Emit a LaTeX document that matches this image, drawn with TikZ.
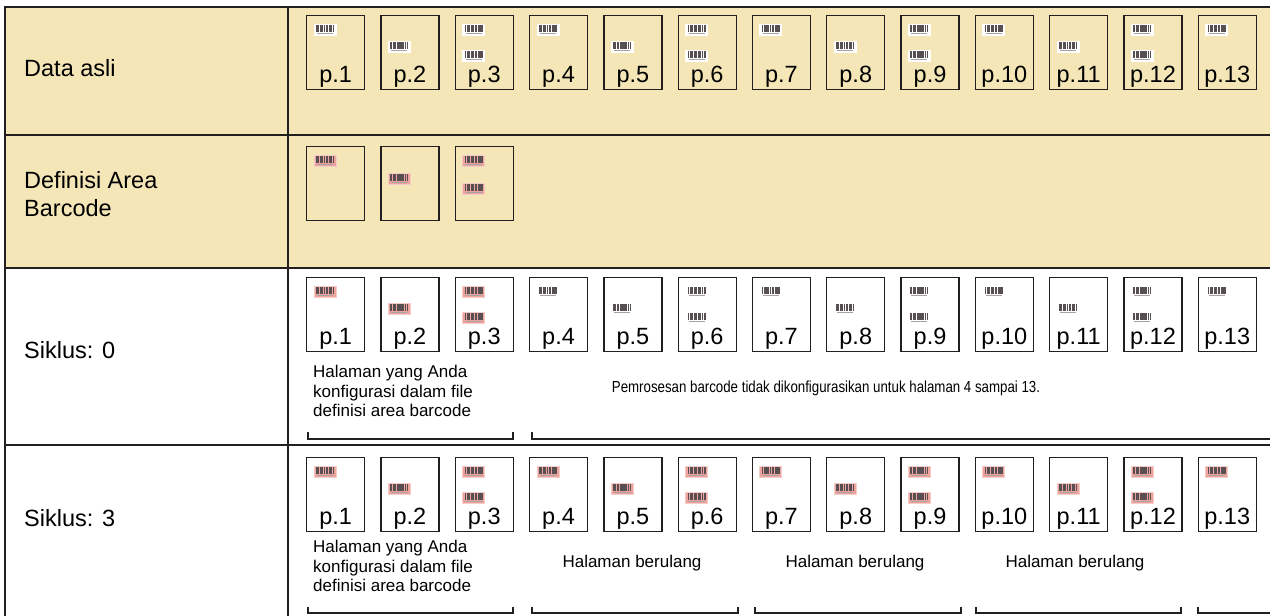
\documentclass[tikz,border=0pt]{standalone}
\usepackage{fontspec}
\setmainfont{Liberation Sans}
\newfontfamily\narrowfont[FakeStretch=0.83]{Liberation Sans}
\usepackage{tikz}
\usetikzlibrary{calc}
\definecolor{tableline}{HTML}{231F20}
\definecolor{tablebg}{HTML}{F4E6B6}
\definecolor{barpink}{HTML}{EFA39D}
\definecolor{barink}{HTML}{3A3032}

\tikzset{
  pics/barcd/.style={code={
    \filldraw[fill=#1, draw=#1!55!white, line width=0.8pt] (0,0) rectangle (22,11);
    \foreach \bx/\bw in {2/1.6, 4.2/0.8, 5.6/2.1, 8.3/0.8, 9.7/1.6, 12/2.3, 14.9/0.8, 16.3/1.6, 18.5/1.5}
      \fill[barink!85] (\bx,1.4) rectangle ++(\bw,6.6);
    \draw[barink!45, line width=0.7pt] (3,9.4) -- (19,9.4);
  }}
}

\begin{document}
\begin{tikzpicture}[x=1pt, y=-1pt, every node/.style={inner sep=0pt},
  rowlabel/.style={anchor=west, align=left, font=\fontsize{23.5}{28}\selectfont},
  page/.style={draw=tableline, line width=1.3pt, anchor=north west, minimum width=58pt, minimum height=74pt},
  plabel/.style={anchor=base, font=\fontsize{23.5}{26}\selectfont},
  note/.style={align=left, font=\fontsize{17}{19.5}\selectfont},
  bracket/.style={draw=tableline, line width=1.3pt},
  rule/.style={draw=tableline, line width=2pt}]
  \useasboundingbox (0,0) rectangle (1270,616);

  % table
  \fill[tablebg] (5,7) rectangle (1270,268);
  \draw[rule] (1270,7) -- (5,7) -- (5,616);
  \draw[rule] (288,7) -- (288,616);
  \draw[rule] (5,135) -- (1270,135);
  \draw[rule] (5,268) -- (1270,268);
  \draw[rule] (5,445) -- (1270,445);

  \node[rowlabel] (origtxt) at (24,68) {Data asli};
  \node[rowlabel] (deftxt) at (24,194) {Definisi Area\\Barcode};
  \node[rowlabel] (cyc0txt) at (24,350) {Siklus: 0};
  \node[rowlabel] (cyc3txt) at (24,518) {Siklus: 3};

  % original data
  \foreach \i in {1,...,13} {
    \pgfmathsetmacro\px{306+(\i-1)*74.3}
    \pgfmathtruncatemacro\k{mod(\i-1,3)}
    \node[page, fill=tablebg] (orig\i) at (\px,15) {};
    \node[plabel] (origlab\i) at ($(orig\i.south)+(0,-7.5)$) {p.\i};
    \ifcase\k
      \pic at ($(orig\i.north west)+(8,9)$) {barcd=white};
    \or
      \pic at ($(orig\i.north west)+(8,26)$) {barcd=white};
    \or
      \pic at ($(orig\i.north west)+(8,9)$) {barcd=white};
      \pic at ($(orig\i.north west)+(8,35)$) {barcd=white};
    \fi
  }

  % barcode area definition
  \foreach \i in {1,2,3} {
    \pgfmathsetmacro\px{306+(\i-1)*74.3}
    \node[page, fill=tablebg] (def\i) at (\px,146) {};
    \ifcase\i
    \or
      \pic at ($(def\i.north west)+(8,9)$) {barcd=barpink};
    \or
      \pic at ($(def\i.north west)+(8,27)$) {barcd=barpink};
    \or
      \pic at ($(def\i.north west)+(8,9)$) {barcd=barpink};
      \pic at ($(def\i.north west)+(8,37)$) {barcd=barpink};
    \fi
  }

  % cycle 0
  \foreach \i in {1,...,13} {
    \pgfmathsetmacro\px{306+(\i-1)*74.3}
    \pgfmathtruncatemacro\k{mod(\i-1,3)}
    \ifnum\i<4 \def\barcol{barpink}\else\def\barcol{white}\fi
    \node[page] (cyca\i) at (\px,277) {};
    \node[plabel] (cycalab\i) at ($(cyca\i.south)+(0,-7.5)$) {p.\i};
    \ifcase\k
      \pic at ($(cyca\i.north west)+(8,9)$) {barcd=\barcol};
    \or
      \pic at ($(cyca\i.north west)+(8,26)$) {barcd=\barcol};
    \or
      \pic at ($(cyca\i.north west)+(8,9)$) {barcd=\barcol};
      \pic at ($(cyca\i.north west)+(8,35)$) {barcd=\barcol};
    \fi
  }
  \node[note, anchor=west] (cfga) at (313,391) {Halaman yang Anda\\konfigurasi dalam file\\definisi area barcode};
  \node[font=\narrowfont\fontsize{16}{19}\selectfont] (skipa) at (826,388) {Pemrosesan barcode tidak dikonfigurasikan untuk halaman 4 sampai 13.};
  \draw[bracket] (308,432) |- (513,439) -- (513,432);
  \draw[bracket] (532,432) |- (1275,439);

  % cycle 3
  \foreach \i in {1,...,13} {
    \pgfmathsetmacro\px{306+(\i-1)*74.3}
    \pgfmathtruncatemacro\k{mod(\i-1,3)}
    \node[page] (cycb\i) at (\px,457) {};
    \node[plabel] (cycblab\i) at ($(cycb\i.south)+(0,-7.5)$) {p.\i};
    \ifcase\k
      \pic at ($(cycb\i.north west)+(8,9)$) {barcd=barpink};
    \or
      \pic at ($(cycb\i.north west)+(8,26)$) {barcd=barpink};
    \or
      \pic at ($(cycb\i.north west)+(8,9)$) {barcd=barpink};
      \pic at ($(cycb\i.north west)+(8,35)$) {barcd=barpink};
    \fi
  }
  \node[note, anchor=west] (cfgb) at (313,566) {Halaman yang Anda\\konfigurasi dalam file\\definisi area barcode};
  \foreach \c [count=\n] in {632,855,1075}
    \node[note] (rep\n) at (\c,563) {Halaman berulang};
  \foreach \a/\b in {308/513, 532/738, 755/961, 976/1181}
    \draw[bracket] (\a,607) |- (\b,613) -- (\b,607);
  \draw[bracket] (1198,607) |- (1275,613);
\end{tikzpicture}
\end{document}
